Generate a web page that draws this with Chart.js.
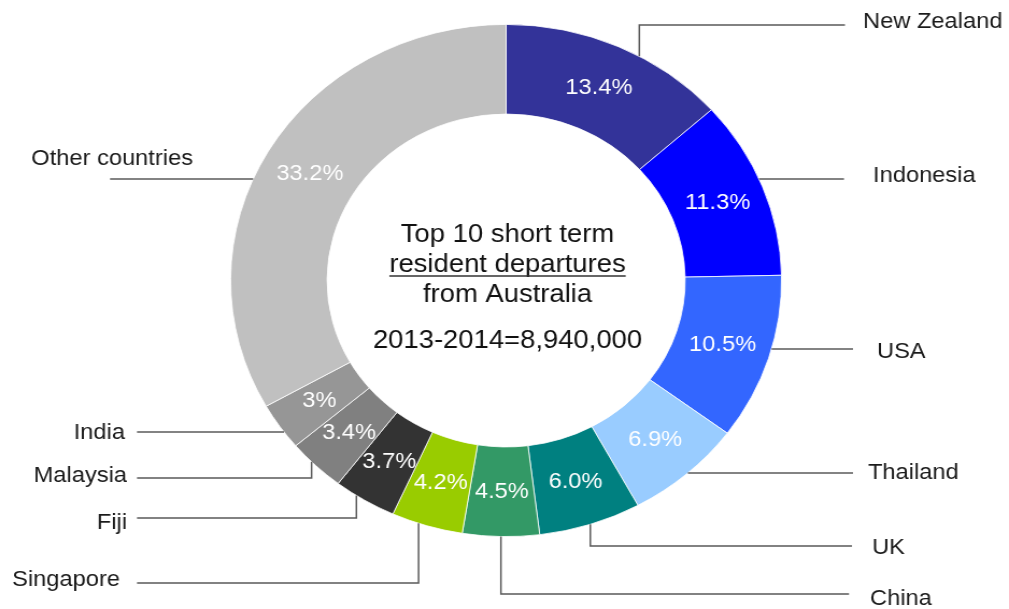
<!DOCTYPE html>
<html>
<head>
<meta charset="utf-8">
<script src="https://cdn.jsdelivr.net/npm/chart.js@4.4.1/dist/chart.umd.min.js"></script>
<style>
  html, body { margin: 0; padding: 0; background: #fff; overflow: hidden; }
  #myChart { display: block; }
</style>
</head>
<body>
<!-- the reference is a bit wider than tall, so the canvas is stretched sideways -->
<canvas id="myChart" width="938" height="609" style="width:1009px;height:609px"></canvas>
<script>
// data
const countries = ["New Zealand", "Indonesia", "USA", "Thailand", "UK", "China",
  "Singapore", "Fiji", "Malaysia", "India", "Other countries"];
const shares = [13.4, 11.3, 10.5, 6.9, 6.0, 4.5, 4.2, 3.7, 3.4, 3, 33.2];
const shareText = ["13.4%", "11.3%", "10.5%", "6.9%", "6.0%", "4.5%", "4.2%", "3.7%", "3.4%", "3%", "33.2%"];
const colours = ["#333399", "#0000ff", "#3366ff", "#99ccff", "#008080", "#339966",
  "#99cc00", "#333333", "#808080", "#969696", "#c0c0c0"];
const centreText = ["Top 10 short term", "resident departures", "from Australia", "2013-2014=8,940,000"];

const S = 1009 / 938; // css stretch
// label placement, in screen px (converted with S)
const callouts = [
  { side: "r", lineY: 25, tx: 863, ty: 28, end: 845, elbow: 0.6 },
  { side: "r", lineY: 179, tx: 873, ty: 182, end: 844 },
  { side: "r", lineY: 349, tx: 877, ty: 358, end: 853 },
  { side: "r", lineY: 473, tx: 868, ty: 479, end: 853 },
  { side: "r", lineY: 546, tx: 872, ty: 554, end: 852, elbow: 0.5 },
  { side: "r", lineY: 594, tx: 870, ty: 605, end: 849, elbow: 0.5 },
  { side: "l", lineY: 583, tx: 120, ty: 586, end: 137, elbow: 0.62 },
  { side: "l", lineY: 518, tx: 127, ty: 529, end: 137, elbow: 0.65 },
  { side: "l", lineY: 478, tx: 127, ty: 482, end: 137, elbow: 0.6 },
  { side: "l", lineY: 432, tx: 125, ty: 439, end: 137 },
  { side: "l", lineY: 179, tx: 193, ty: 165, end: 110 },
];

const labelPlugin = {
  id: "labelPlugin",
  afterDraw(chart) {
    const ctx = chart.ctx;
    const meta = chart.getDatasetMeta(0);
    ctx.save();
    // percentages inside the ring
    ctx.fillStyle = "#ffffff";
    ctx.font = "22px Arial, 'Liberation Sans', sans-serif";
    ctx.textAlign = "center";
    ctx.textBaseline = "middle";
    meta.data.forEach((arc, i) => {
      const a = (arc.startAngle + arc.endAngle) / 2;
      const r = (arc.innerRadius + arc.outerRadius) / 2;
      ctx.fillText(shareText[i], arc.x + r * Math.cos(a), arc.y + r * Math.sin(a));
    });

    // leader lines + country names
    ctx.strokeStyle = "#5a5a5a";
    ctx.lineWidth = 1.5;
    ctx.fillStyle = "#1a1a1a";
    ctx.textBaseline = "alphabetic";
    meta.data.forEach((arc, i) => {
      const c = callouts[i];
      const R = arc.outerRadius;
      const ly = c.lineY;
      let px, py;
      if (c.elbow) {
        const a = arc.startAngle + c.elbow * (arc.endAngle - arc.startAngle);
        px = arc.x + R * Math.cos(a);
        py = arc.y + R * Math.sin(a);
      } else {
        const dy = ly - arc.y;
        const dx = Math.sqrt(Math.max(R * R - dy * dy, 0));
        px = c.side == "r" ? arc.x + dx : arc.x - dx;
        py = ly;
      }
      ctx.beginPath();
      ctx.moveTo(px, py);
      ctx.lineTo(px, ly);
      ctx.lineTo(c.end / S, ly);
      ctx.stroke();
      ctx.textAlign = c.side == "r" ? "left" : "right";
      ctx.fillText(chart.data.labels[i], c.tx / S, c.ty);
    });

    // text in the hole
    const cx = 507.5 / S;
    const ys = [242, 272, 302, 348];
    ctx.font = "25.5px Arial, 'Liberation Sans', sans-serif";
    ctx.textAlign = "center";
    ctx.fillStyle = "#111111";
    centreText.forEach((t, k) => {
      ctx.fillText(t, cx, ys[k]);
    });
    const w = ctx.measureText(centreText[1]).width;
    ctx.strokeStyle = "#333333";
    ctx.lineWidth = 1.5;
    ctx.beginPath();
    ctx.moveTo(cx - w / 2, ys[1] + 4);
    ctx.lineTo(cx + w / 2, ys[1] + 4);
    ctx.stroke();
    ctx.restore();
  },
};

let ctx = document.getElementById("myChart").getContext("2d");
let myChart = new Chart(ctx, {
  type: "doughnut",
  data: {
    labels: countries,
    datasets: [
      {
        data: shares,
        backgroundColor: colours,
        borderColor: "#ffffff",
        borderWidth: 0.8,
      },
    ],
  },
  options: {
    responsive: false,
    animation: false,
    devicePixelRatio: 1,
    cutout: "65%",
    layout: { padding: { top: 24, bottom: 72, left: 200, right: 197 } },
    plugins: {
      legend: { display: false },
      tooltip: { enabled: false },
    },
  },
  plugins: [labelPlugin],
});
</script>
</body>
</html>
